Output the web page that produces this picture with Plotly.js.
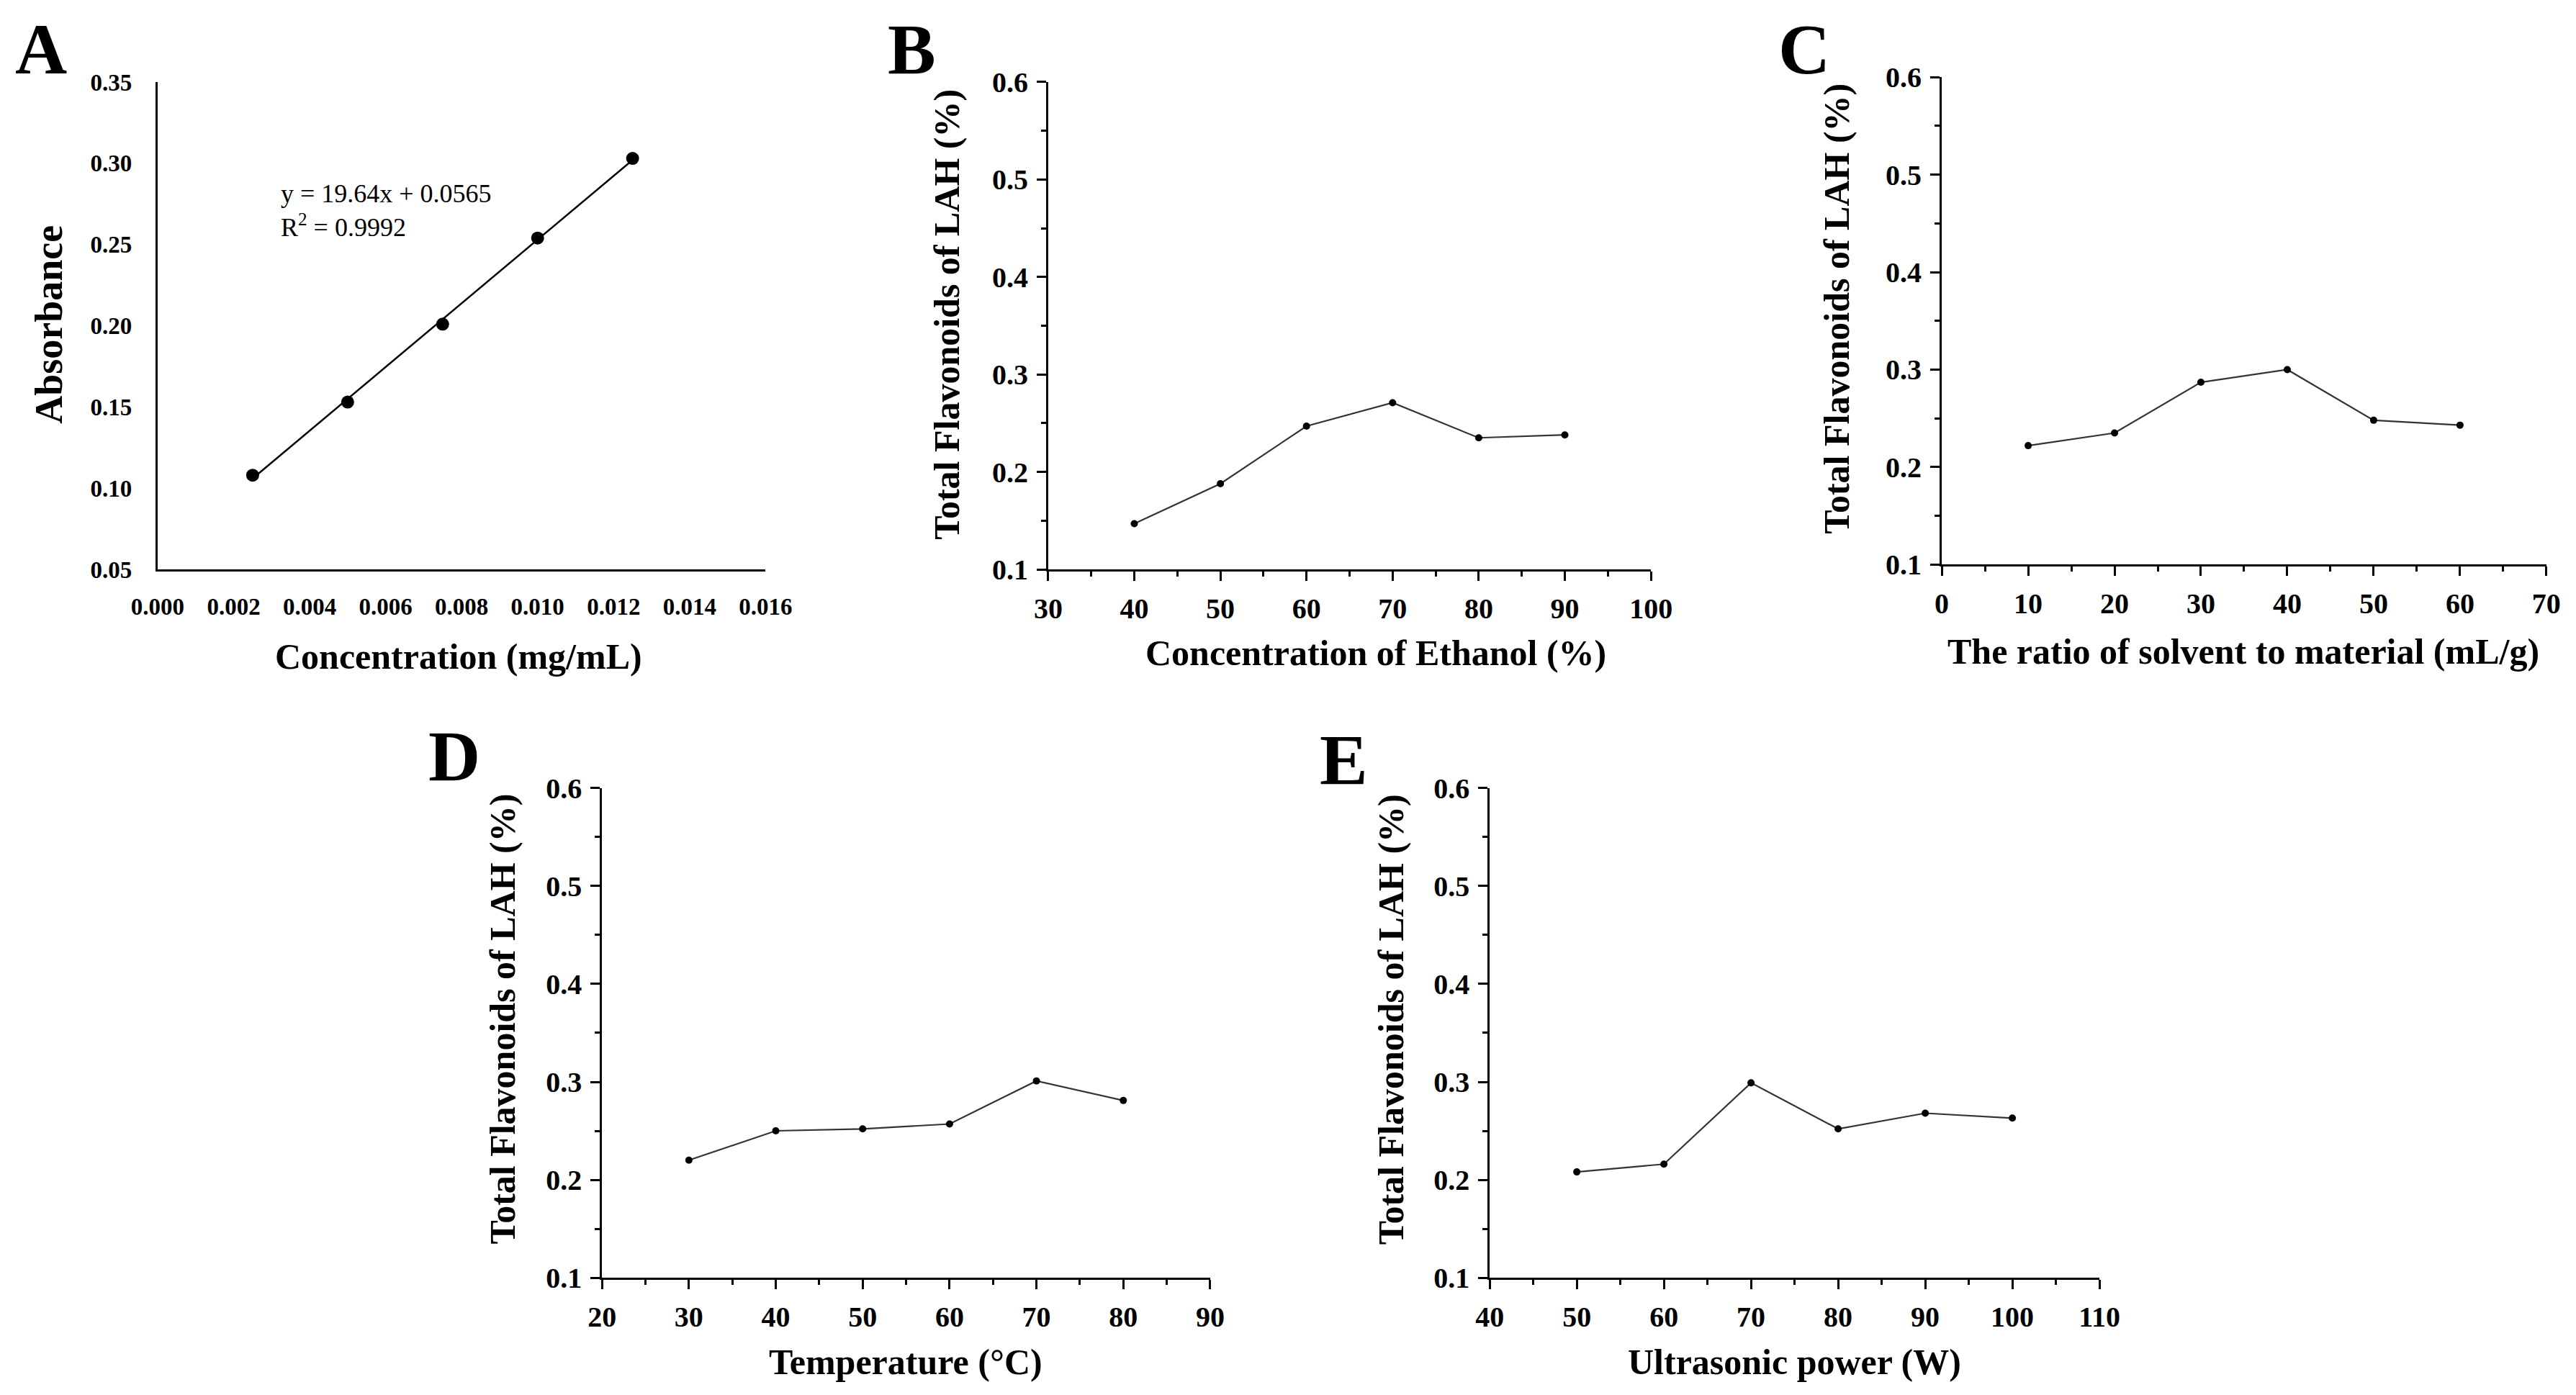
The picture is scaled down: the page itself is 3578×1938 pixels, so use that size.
<!DOCTYPE html>
<html>
<head>
<meta charset="utf-8">
<script src="https://cdn.plot.ly/plotly-3.0.1.min.js"></script>
<style>html,body{margin:0;padding:0;background:#fff;}#chart{width:3578px;height:1938px;}</style>
</head>
<body>
<div id="chart"></div>
<script>
// ---- Data ----
// Panel A: standard curve
const concA = [0.0025, 0.005, 0.0075, 0.010, 0.0125];
const absA = [0.108, 0.153, 0.201, 0.254, 0.303];
const fitX = [0.0025, 0.0125];
const fitY = [0.106, 0.302];
// Panel B: ethanol concentration
const ethanolB = [40, 50, 60, 70, 80, 90];
const flavB = [0.147, 0.188, 0.247, 0.271, 0.235, 0.238];
// Panel C: solvent / material ratio
const ratioC = [10, 20, 30, 40, 50, 60];
const flavC = [0.222, 0.235, 0.287, 0.300, 0.248, 0.243];
// Panel D: temperature
const tempD = [30, 40, 50, 60, 70, 80];
const flavD = [0.220, 0.250, 0.252, 0.257, 0.301, 0.281];
// Panel E: ultrasonic power
const powerE = [50, 60, 70, 80, 90, 100];
const flavE = [0.208, 0.216, 0.299, 0.252, 0.268, 0.263];

const FAM = 'Liberation Serif, Times New Roman, serif';
const W = 3578, H = 1938;

const lineStyle = {color: '#333', width: 2.2};
const mk = {color: '#000', size: 10};

const traces = [
  {x: fitX, y: fitY, mode: 'lines', line: {color: '#000', width: 2.5}, xaxis: 'x', yaxis: 'y', hoverinfo: 'skip'},
  {x: concA, y: absA, mode: 'markers', marker: {color: '#000', size: 18}, xaxis: 'x', yaxis: 'y'},
  {x: ethanolB, y: flavB, mode: 'lines+markers', line: lineStyle, marker: mk, xaxis: 'x2', yaxis: 'y2'},
  {x: ratioC, y: flavC, mode: 'lines+markers', line: lineStyle, marker: mk, xaxis: 'x3', yaxis: 'y3'},
  {x: tempD, y: flavD, mode: 'lines+markers', line: lineStyle, marker: mk, xaxis: 'x4', yaxis: 'y4'},
  {x: powerE, y: flavE, mode: 'lines+markers', line: lineStyle, marker: mk, xaxis: 'x5', yaxis: 'y5'}
];

function axBase(extra) {
  return Object.assign({
    showline: true, linecolor: '#000', linewidth: 3, showgrid: false, zeroline: false,
    mirror: false, fixedrange: true
  }, extra);
}
const tfA = {family: FAM, size: 33, color: '#000', weight: 'bold'};
const tfB = {family: FAM, size: 40, color: '#000', weight: 'bold'};
function xOrigin(dom, anchor, range, dtick) {
  return axBase({domain: dom, anchor: anchor, range: range, dtick: dtick, tick0: 0,
    ticks: 'outside', ticklen: 13, tickwidth: 3, tickcolor: '#000', tickfont: tfB, ticklabelstandoff: 4,
    minor: {ticks: 'outside', ticklen: 7, tickwidth: 3, tickcolor: '#000', dtick: dtick / 2, showgrid: false}});
}
function yOrigin(dom, anchor) {
  return axBase({domain: dom, anchor: anchor, range: [0.1, 0.6], dtick: 0.1, tick0: 0, tickformat: '.1f',
    ticks: 'outside', ticklen: 13, tickwidth: 3, tickcolor: '#000', tickfont: tfB, ticklabelstandoff: 4,
    minor: {ticks: 'outside', ticklen: 7, tickwidth: 3, tickcolor: '#000', dtick: 0.05, showgrid: false}});
}

const topDom = [0.5918, 0.9412];
const botDom = [0.0841, 0.4350];

const layout = {
  width: W, height: H,
  margin: {l: 0, r: 0, t: 0, b: 0, pad: 0},
  paper_bgcolor: '#fff', plot_bgcolor: '#fff',
  showlegend: false,
  font: {family: FAM, color: '#000'},
  xaxis: axBase({domain: [0.0612, 0.2972], anchor: 'y', range: [0, 0.016], dtick: 0.002, tick0: 0,
    tickformat: '.3f', ticks: '', tickfont: tfA, ticklabelstandoff: 20}),
  yaxis: axBase({domain: topDom, anchor: 'x', range: [0.05, 0.35], dtick: 0.05, tick0: 0,
    tickformat: '.2f', ticks: '', tickfont: tfA, ticklabelstandoff: 26}),
  xaxis2: xOrigin([0.4069, 0.6409], 'y2', [30, 100], 10),
  yaxis2: yOrigin(topDom, 'x2'),
  xaxis3: xOrigin([0.7538, 0.9885], 'y3', [0, 70], 10),
  yaxis3: yOrigin([0.5953, 0.9447], 'x3'),
  xaxis4: xOrigin([0.2337, 0.4698], 'y4', [20, 90], 10),
  yaxis4: yOrigin(botDom, 'x4'),
  xaxis5: xOrigin([0.5783, 0.8150], 'y5', [40, 110], 10),
  yaxis5: yOrigin(botDom, 'x5'),
  annotations: []
};

const letterFont = {family: FAM, size: 100, color: '#000', weight: 'bold'};
const titleFont = {family: FAM, size: 50, color: '#000', weight: 'bold'};
function pa(text, x, y, font, angle) {
  layout.annotations.push({text: text, x: x, y: y, xref: 'paper', yref: 'paper', showarrow: false,
    xanchor: 'center', yanchor: 'middle', font: font, textangle: angle || 0});
}
// panel letters
pa('A', 0.0159, 0.9647, letterFont);
pa('B', 0.3540, 0.9647, letterFont);
pa('C', 0.7003, 0.9647, letterFont);
pa('D', 0.1763, 0.4582, letterFont);
pa('E', 0.5217, 0.4553, letterFont);
// axis titles
pa('Absorbance', 0.0191, 0.7676, Object.assign({}, titleFont, {size: 54}), -90);
pa('Concentration (mg/mL)', 0.178, 0.5294, titleFont);
pa('Total Flavonoids of LAH (%)', 0.3673, 0.7747, titleFont, -90);
pa('Concentration of Ethanol (%)', 0.534, 0.5318, titleFont);
pa('Total Flavonoids of LAH (%)', 0.7130, 0.7788, titleFont, -90);
pa('The ratio of solvent to material (mL/g)', 0.871, 0.533, titleFont);
pa('Total Flavonoids of LAH (%)', 0.1950, 0.2694, titleFont, -90);
pa('Temperature (°C)', 0.3517, 0.0235, titleFont);
pa('Total Flavonoids of LAH (%)', 0.5398, 0.2694, titleFont, -90);
pa('Ultrasonic power (W)', 0.6966, 0.0235, titleFont);
// regression text
layout.annotations.push({text: 'y = 19.64x + 0.0565<br>R<sup>2</sup> = 0.9992', x: 0.0032, y: 0.271,
  xref: 'x', yref: 'y', showarrow: false, xanchor: 'left', yanchor: 'middle', align: 'left',
  font: {family: FAM, size: 36, color: '#000'}});

Plotly.newPlot('chart', traces, layout, {displayModeBar: false, staticPlot: true});
</script>
</body>
</html>
